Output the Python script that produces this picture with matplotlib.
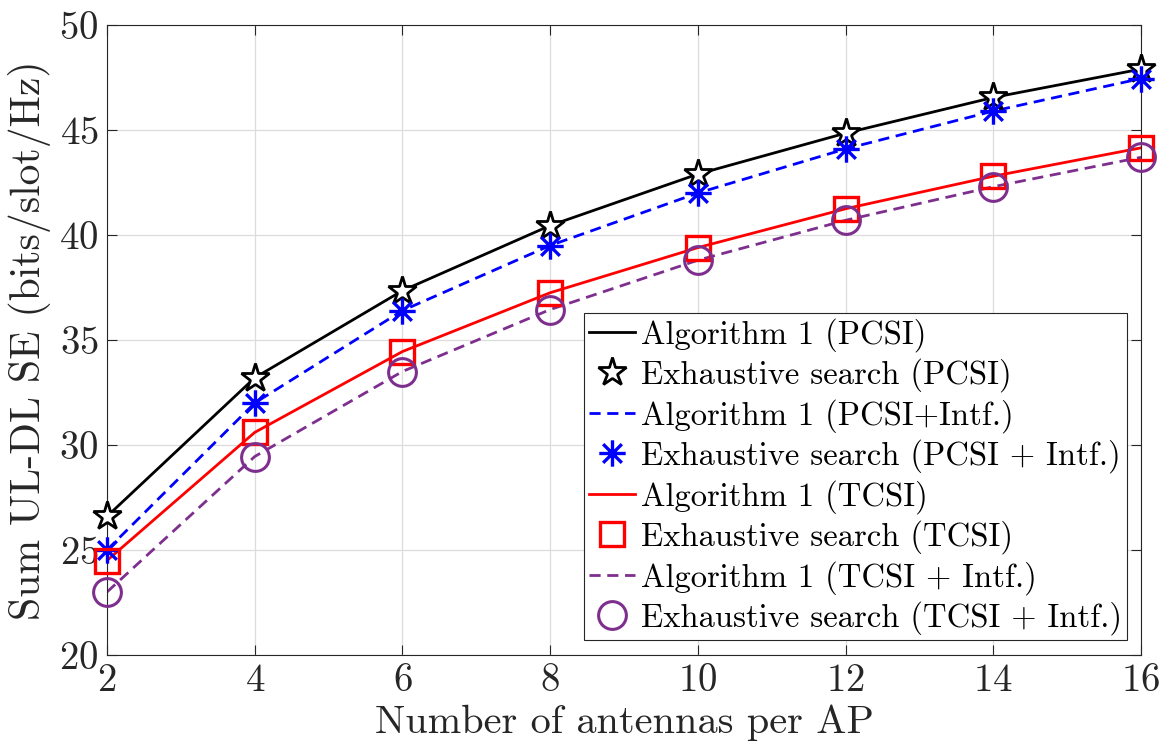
import matplotlib
matplotlib.use("Agg")
import matplotlib.pyplot as plt
import numpy as np
from matplotlib.path import Path

plt.rcParams.update({
    "font.family": "serif",
    "font.serif": ["cmr10", "DejaVu Serif"],
    "mathtext.fontset": "cm",
    "axes.formatter.use_mathtext": True,
})

antennas = [2, 4, 6, 8, 10, 12, 14, 16]

se_pcsi = [26.6, 33.2, 37.35, 40.45, 42.9, 44.85, 46.55, 47.9]
se_pcsi_intf = [25.0, 32.0, 36.4, 39.5, 42.0, 44.1, 45.9, 47.45]
se_tcsi = [24.5, 30.6, 34.45, 37.25, 39.4, 41.25, 42.8, 44.15]
se_tcsi_intf = [23.0, 29.45, 33.5, 36.45, 38.8, 40.7, 42.3, 43.7]

legend_labels = [
    "Algorithm 1 (PCSI)",
    "Exhaustive search (PCSI)",
    "Algorithm 1 (PCSI+Intf.)",
    "Exhaustive search (PCSI + Intf.)",
    "Algorithm 1 (TCSI)",
    "Exhaustive search (TCSI)",
    "Algorithm 1 (TCSI + Intf.)",
    "Exhaustive search (TCSI + Intf.)",
]

PURPLE = "#7E2F8E"

# eight-spoke asterisk marker (horizontal, vertical and both diagonals)
d = np.sqrt(0.5)
asterisk = Path(
    [(-1, 0), (1, 0), (0, -1), (0, 1), (-d, -d), (d, d), (-d, d), (d, -d)],
    [Path.MOVETO, Path.LINETO] * 4,
)

fig = plt.figure(figsize=(11.69, 7.49), dpi=100)
ax = fig.add_axes([107 / 1169, 1 - 655 / 749, (1141 - 107) / 1169, (655 - 25) / 749])

lw = 2.0
dash = (4.0, 2.4)
series = [
    (se_pcsi, dict(color="black", linestyle="-"),
     dict(marker="*", markersize=21, mfc="white", mec="black", mew=2.0)),
    (se_pcsi_intf, dict(color="blue", linestyle=(0, dash)),
     dict(marker=asterisk, markersize=19, mfc="none", mec="blue", mew=2.4)),
    (se_tcsi, dict(color="red", linestyle="-"),
     dict(marker="s", markersize=17, mfc="none", mec="red", mew=2.4)),
    (se_tcsi_intf, dict(color=PURPLE, linestyle=(0, dash)),
     dict(marker="o", markersize=20, mfc="none", mec=PURPLE, mew=2.2)),
]

handles = []
for values, line_style, marker_style in series:
    line, = ax.plot(antennas, values, linewidth=lw, **line_style)
    pts, = ax.plot(antennas, values, linestyle="none", clip_on=False, zorder=3,
                   **marker_style)
    handles += [line, pts]

ax.set_xlim(2, 16)
ax.set_ylim(20, 50)
ax.set_xticks(antennas)
ax.set_yticks(np.arange(20, 51, 5))
ax.grid(True, color="#dcdcdc", linewidth=0.9)
ax.set_axisbelow(True)
ax.tick_params(direction="in", length=7, width=0.8, top=True, right=True,
               labelsize=28, colors="#262626", labelcolor="#262626", pad=6)
for spine in ax.spines.values():
    spine.set_color("#262626")
    spine.set_linewidth(0.8)

ax.set_xlabel("Number of antennas per AP", fontsize=29, color="#262626", labelpad=4)
ax.set_ylabel("Sum UL-DL SE (bits/slot/Hz)", fontsize=30, color="#262626", labelpad=6)

leg = ax.legend(handles, legend_labels, loc="lower right",
                bbox_to_anchor=(1 - 14 / 1034, 15 / 630), borderaxespad=0,
                fontsize=23.5, handlelength=1.4, handletextpad=0.2,
                labelspacing=0.2, borderpad=0.15, fancybox=False,
                framealpha=1, edgecolor="#262626")
leg.get_frame().set_linewidth(0.8)

fig.savefig("out.png", dpi=100)
